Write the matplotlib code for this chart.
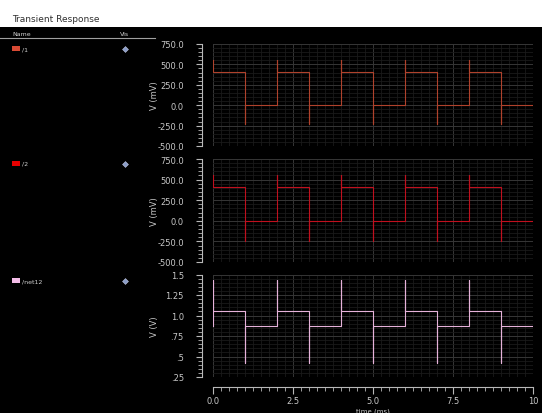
import matplotlib
matplotlib.use('Agg')
import matplotlib.pyplot as plt
from matplotlib.patches import Rectangle
from matplotlib.ticker import MultipleLocator

# edge times (ms) of the square wave
edge_t = [0, 1, 2, 3, 4, 5, 6, 7, 8, 9]
t_end = 10

# /1 (mV): spike value at each edge, settled level after each edge
v1_start = 550
v1_spike = [550, -230, 550, -230, 550, -230, 550, -230, 550, -230]
v1_level = [410, 0, 410, 0, 410, 0, 410, 0, 410, 0]

# /2 (mV)
v2_start = 560
v2_spike = [560, -245, 560, -245, 560, -245, 560, -245, 560, -245]
v2_level = [412, 0, 412, 0, 412, 0, 412, 0, 412, 0]

# /net12 (V)
v3_start = 0.87
v3_spike = [1.43, 0.42, 1.43, 0.42, 1.43, 0.42, 1.43, 0.42, 1.43, 0.42]
v3_level = [1.055, 0.87, 1.055, 0.87, 1.055, 0.87, 1.055, 0.87, 1.055, 0.87]

names = ['/1', '/2', '/net12']
colors = ['#b0422c', '#c0101e', '#e6b2da']
swatch_colors = ['#d84a34', '#e80000', '#f4bde8']

mv_ticks = [750, 500, 250, 0, -250, -500]
mv_labels = ['750.0', '500.0', '250.0', '0.0', '-250.0', '-500.0']
v_ticks = [1.5, 1.25, 1.0, 0.75, 0.5, 0.25]
v_labels = ['1.5', '1.25', '1.0', '.75', '.5', '.25']
x_ticks = [0, 2.5, 5, 7.5, 10]
x_labels = ['0.0', '2.5', '5.0', '7.5', '10']


def step_wave(start, spikes, levels):
  t, v = [], []
  prev = start
  for te, sp, lv in zip(edge_t, spikes, levels):
    t += [te, te, te]
    v += [prev, sp, lv]
    prev = lv
  t.append(t_end)
  v.append(prev)
  return t, v


W, H = 542, 414
fig = plt.figure(figsize=(W / 100, H / 100), dpi=100)
fig.patch.set_facecolor('white')
fig.patches.append(Rectangle((0, 0), 1, 1 - 28 / H, transform=fig.transFigure,
                             facecolor='black', edgecolor='none', zorder=-10))
fig.text(12 / W, 1 - 20 / H, 'Transient Response', fontsize=6.5, color='#303030', va='center')

# name / vis header
fig.text(12 / W, 1 - 34 / H, 'Name', fontsize=4.5, color='#d0d0d0', va='center')
fig.text(120 / W, 1 - 34 / H, 'Vis', fontsize=4.5, color='#d0d0d0', va='center')
fig.lines.append(plt.Line2D([0, 155 / W], [1 - 38.5 / H] * 2, transform=fig.transFigure,
                            color='#a0a0a0', lw=0.8))

txt = '#c8c8c8'
# (top px, bottom px) of each panel
panels = [(45, 147), (160, 263), (275.5, 378)]
entry_y = [49.5, 164.5, 281.5]
waves = [step_wave(v1_start, v1_spike, v1_level),
         step_wave(v2_start, v2_spike, v2_level),
         step_wave(v3_start, v3_spike, v3_level)]

for i, (top, bot) in enumerate(panels):
  ax = fig.add_axes([213 / W, 1 - bot / H, 320 / W, (bot - top) / H])
  ax.set_facecolor('black')
  t, v = waves[i]
  ax.plot(t, v, color=colors[i], lw=0.8, zorder=3)
  ax.set_xlim(0, 10)
  if i < 2:
    ax.set_ylim(-500, 750)
    ax.set_yticks(mv_ticks, labels=mv_labels)
    ax.yaxis.set_minor_locator(MultipleLocator(50))
    ax.set_ylabel('V (mV)', color=txt, fontsize=6)
  else:
    ax.set_ylim(0.25, 1.5)
    ax.set_yticks(v_ticks, labels=v_labels)
    ax.yaxis.set_minor_locator(MultipleLocator(0.05))
    ax.set_ylabel('V (V)', color=txt, fontsize=6)
  ax.yaxis.set_label_coords((159 - 213) / 320, 0.5)

  ax.set_xticks(x_ticks, labels=x_labels)
  ax.xaxis.set_minor_locator(MultipleLocator(0.25))
  ax.grid(which='minor', color='#1a1a1a', lw=0.6, zorder=1)
  ax.grid(which='major', color='#363636', lw=0.7, zorder=2)

  for s in ['top', 'right']:
    ax.spines[s].set_visible(False)
  ax.spines['left'].set_position(('outward', 8))
  ax.spines['left'].set_color('#b8b8b8')
  ax.tick_params(axis='y', which='major', length=4, width=0.8, colors='#b8b8b8',
                 labelcolor=txt, labelsize=6, pad=9)
  ax.tick_params(axis='y', which='minor', length=3, width=0.6, colors='#b8b8b8')

  if i < 2:
    ax.spines['bottom'].set_visible(False)
    ax.tick_params(axis='x', which='both', length=0, labelbottom=False)
  else:
    ax.spines['bottom'].set_position(('outward', 7))
    ax.spines['bottom'].set_color('#b8b8b8')
    ax.tick_params(axis='x', which='major', length=5, width=0.8, colors='#b8b8b8',
                   labelcolor=txt, labelsize=6, pad=2)
    ax.tick_params(axis='x', which='minor', length=3, width=0.6, colors='#b8b8b8')
    ax.set_xlabel('time (ms)', color=txt, fontsize=5)
    ax.xaxis.set_label_coords(0.5, (1 - 408.5 / H - (1 - bot / H)) / ((bot - top) / H))

  # legend entry on the left
  ey = 1 - entry_y[i] / H
  fig.patches.append(Rectangle((12 / W, ey - 2.5 / H), 8 / W, 5 / H, transform=fig.transFigure,
                               facecolor=swatch_colors[i], edgecolor='none'))
  fig.text(22 / W, ey, names[i], fontsize=4.5, color='#d0d0d0', va='center')
  fig.lines.append(plt.Line2D([125 / W], [ey], transform=fig.transFigure, marker='D',
                              markersize=3, color='#8a9cc8', markeredgecolor='#c0c8e0',
                              markeredgewidth=0.4, lw=0))

fig.savefig('out.png', dpi=100, facecolor=fig.get_facecolor())
